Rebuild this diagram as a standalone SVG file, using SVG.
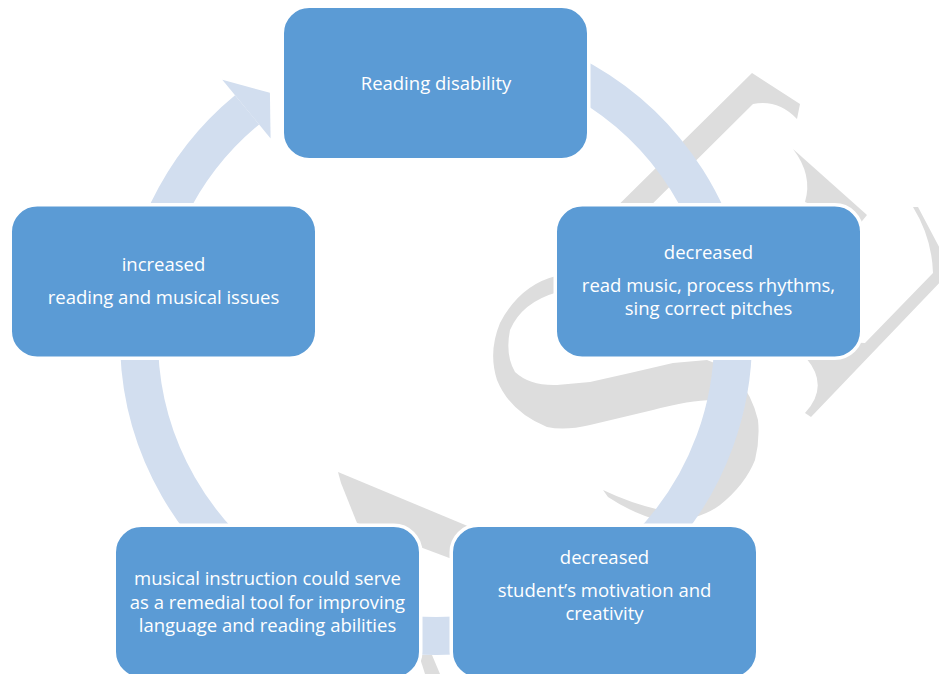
<svg xmlns="http://www.w3.org/2000/svg" width="939" height="674" viewBox="0 0 939 674">
  <style>
    .wm { fill: #DDDDDD; }
    .ring { fill: none; stroke: #D2DEEF; stroke-width: 38; }
    .head { fill: #D2DEEF; }
    .box { fill: #5B9BD5; stroke: #FFFFFF; stroke-width: 3.5; }
    .t { fill: #FFFFFF; font-family: "Open Sans", "Liberation Sans", sans-serif; font-size: 18.5px; text-anchor: middle; }
  </style>
  <rect width="939" height="674" fill="#FFFFFF"/>
  <g id="watermark">
    <path class="wm" d="M752,73 L800,104 L797,119 Q778,99 753,104 L618,238 L585,238 Z"/>
    <path class="wm" d="M793,149 L867,215 L858,226 L805,202 Q813,175 793,149 Z"/>
    <path class="wm" d="M913,207 L918,207 L945,258 L945,277 L811,417 L805,413 Q830,386 806,358 L806,340 L865,343 L933,273 Q932,238 913,207 Z"/>
    <path class="wm" d="M556,276 Q520,285 500,323 Q488,352 497,380 Q510,412 547,427 Q565,431 590,425 L653,410 Q690,400 713,400 Q735,440 722,470 Q705,500 660,510 Q630,503 603,490 L608,497 Q635,515 665,522 Q700,520 720,505 Q745,485 755,460 Q760,440 758,420 Q752,395 737,378 Q722,365 707,360 L673,363 L630,373 L590,382 L557,385 Q530,386 515,372 Q505,355 510,330 Q522,302 558,292 Z"/>
    <path class="wm" d="M338,472 L470,527 L452,559 L420,547 L357,523 L341,483 Z"/>
    <path class="wm" d="M419,655 L432,655 L440,674 L425,674 Z"/>
  </g>
  <g id="connectors">
    <path class="ring" d="M461.89,43.13 A297,297 0 1 1 247.1,109.8"/>
    <polygon class="head" points="222.3,79.7 269.9,92.8 270.6,138.4"/>
  </g>
  <g id="node-reading-disability">
    <rect class="box" x="282.25" y="6.25" width="306.5" height="153.5" rx="27"/>
    <text class="t" x="436" y="90">Reading disability</text>
  </g>
  <g id="node-decreased-music">
    <rect class="box" x="555.25" y="204.75" width="306.5" height="153.5" rx="27"/>
    <text class="t" x="708.5" y="259">decreased</text>
    <text class="t" x="708.5" y="292">read music, process rhythms,</text>
    <text class="t" x="708.5" y="315">sing correct pitches</text>
  </g>
  <g id="node-decreased-motivation">
    <rect class="box" x="451.25" y="525.25" width="306.5" height="153.5" rx="27"/>
    <text class="t" x="604.5" y="564">decreased</text>
    <text class="t" x="604.5" y="597">student’s motivation and</text>
    <text class="t" x="604.5" y="620">creativity</text>
  </g>
  <g id="node-musical-instruction">
    <rect class="box" x="114.25" y="525.25" width="306.5" height="153.5" rx="27"/>
    <text class="t" x="267.5" y="585">musical instruction could serve</text>
    <text class="t" x="267.5" y="608.5">as a remedial tool for improving</text>
    <text class="t" x="267.5" y="632">language and reading abilities</text>
  </g>
  <g id="node-increased">
    <rect class="box" x="10.25" y="204.75" width="306.5" height="153.5" rx="27"/>
    <text class="t" x="163.5" y="271">increased</text>
    <text class="t" x="163.5" y="304">reading and musical issues</text>
  </g>
</svg>
